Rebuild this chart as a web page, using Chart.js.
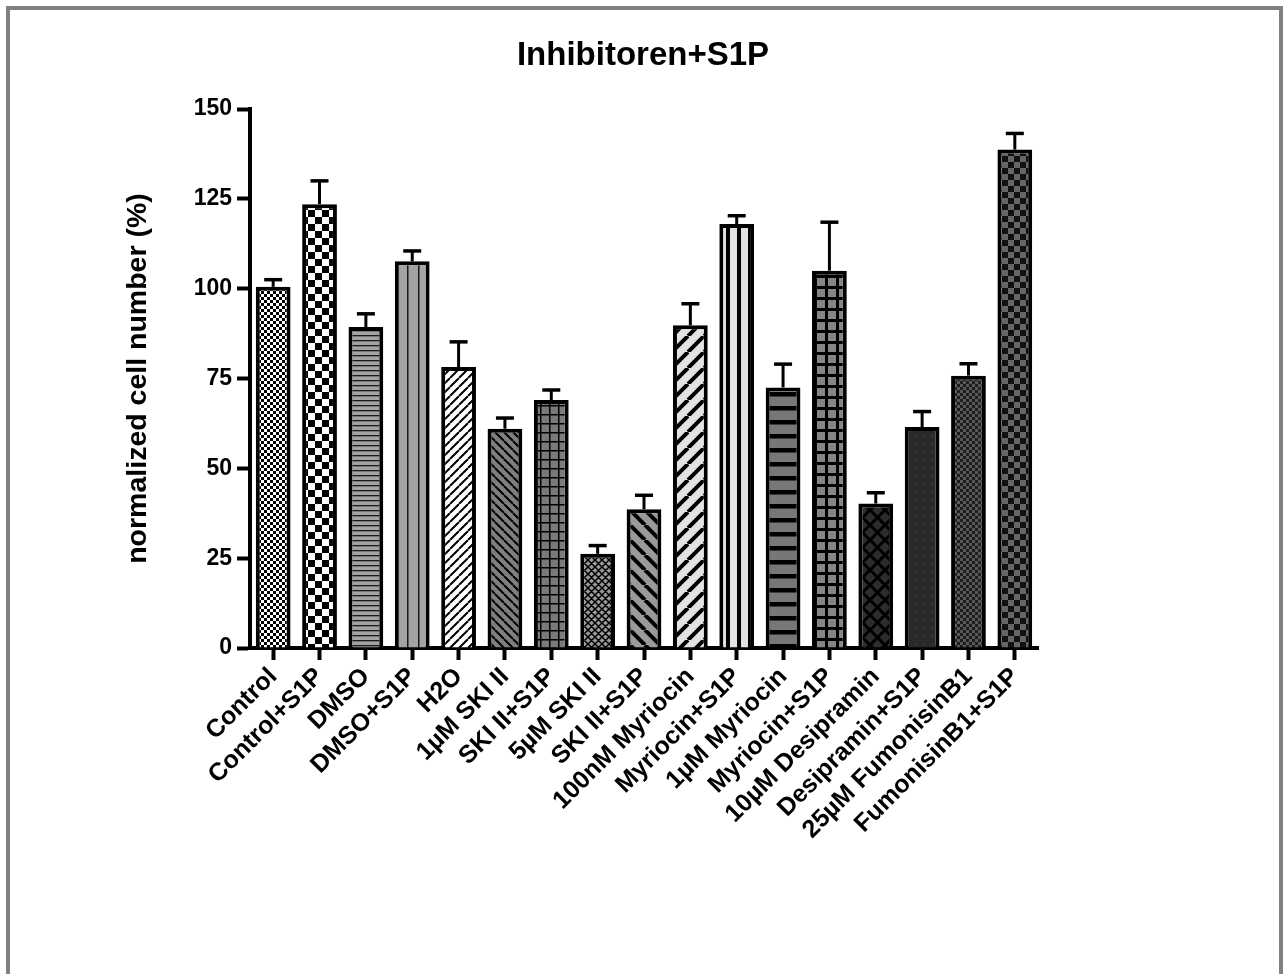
<!DOCTYPE html>
<html>
<head>
<meta charset="utf-8">
<title>Inhibitoren+S1P</title>
<script src="https://cdn.jsdelivr.net/npm/chart.js@4.4.1/dist/chart.umd.min.js"></script>
<style>
    body { margin: 0; background: #fff; overflow: hidden; }
    #wrap { position: absolute; left: 0; top: 0; width: 1286px; height: 974px; }
    #frame { position: absolute; left: 6px; top: 6px; width: 1277px; height: 1000px; box-sizing: border-box; border: 4px solid #808080; pointer-events: none; }
</style>
</head>
<body>
<div id="wrap"><canvas id="chart" width="1286" height="974"></canvas></div>
<div id="frame"></div>
<script>
/*
 * Inhibitoren+S1P - bar chart with upper error bars and grey fill patterns
 */

const groups = ['Control', 'Control+S1P', 'DMSO', 'DMSO+S1P', 'H2O', '1µM SKI II', 'SKI II+S1P', '5µM SKI II', 'SKI II+S1P',
    '100nM Myriocin', 'Myriocin+S1P', '1µM Myriocin', 'Myriocin+S1P', '10µM Desipramin', 'Desipramin+S1P', '25µM FumonisinB1', 'FumonisinB1+S1P'];
const cellNumber = [100.5, 123.5, 89.3, 107.6, 78.2, 61.0, 69.0, 26.2, 38.6, 89.8, 118.0, 72.5, 105.0, 40.2, 61.5, 75.8, 138.7];
const sem = [2.0, 6.5, 3.7, 2.9, 7.0, 3.0, 2.8, 2.3, 3.9, 6.0, 2.3, 6.5, 13.5, 3.0, 4.3, 3.3, 4.5];
const yTicks = [0, 25, 50, 75, 100, 125, 150];

const canvas = document.getElementById('chart');
const ctx = canvas.getContext('2d');
const FONT = "'Liberation Sans', Arial, Helvetica, sans-serif";

function tile(size, bg, draw) {
    const c = document.createElement('canvas');
    c.width = size; c.height = size;
    const g = c.getContext('2d');
    g.fillStyle = bg; g.fillRect(0, 0, size, size);
    g.strokeStyle = '#000'; g.fillStyle = '#000';
    draw(g, size);
    return ctx.createPattern(c, 'repeat');
}
function checker(cell, a, b) {
    return tile(cell * 2, a, (g, s) => { g.fillStyle = b; g.fillRect(0, 0, cell, cell); g.fillRect(cell, cell, cell, cell); });
}
function hLines(s, lw, bg, col) {
    return tile(s, bg, (g) => { g.fillStyle = col || '#000'; g.fillRect(0, 0, s, lw); });
}
function vLines(s, lw, bg, col) {
    return tile(s, bg, (g) => { g.fillStyle = col || '#000'; g.fillRect(0, 0, lw, s); });
}
function grid(s, lw, bg) {
    return tile(s, bg, (g) => { g.fillRect(0, 0, s, lw); g.fillRect(0, 0, lw, s); });
}
function diag(s, lw, bg, dir) {
    return tile(s, bg, (g) => {
        g.lineWidth = lw;
        g.beginPath();
        for (let k = -1; k <= 1; k++) {
            if (dir === '/') { g.moveTo(k * s, s); g.lineTo(k * s + s, 0); }
            else { g.moveTo(k * s, 0); g.lineTo(k * s + s, s); }
        }
        g.stroke();
    });
}
function cross(s, lw, bg) {
    return tile(s, bg, (g) => {
        g.lineWidth = lw;
        g.beginPath();
        for (let k = -1; k <= 1; k++) {
            g.moveTo(k * s, s); g.lineTo(k * s + s, 0);
            g.moveTo(k * s, 0); g.lineTo(k * s + s, s);
        }
        g.stroke();
    });
}
function dots(s, r, bg, col) {
    return tile(s, bg, (g) => { g.fillStyle = col; g.fillRect(s / 2, s / 2, r, r); });
}

const fills = [
    checker(3, '#ffffff', '#000000'),
    checker(7, '#ffffff', '#000000'),
    hLines(5, 1.3, '#a3a3a3', '#1a1a1a'),
    vLines(11, 1.5, '#a3a3a3', '#1a1a1a'),
    diag(9, 2, '#ffffff', '/'),
    diag(9, 2, '#7f7f7f', '\\'),
    grid(9, 1.5, '#7a7a7a'),
    cross(7, 1.5, '#9a9a9a'),
    diag(15, 4, '#9a9a9a', '\\'),
    diag(16, 4, '#e2e2e2', '/'),
    vLines(11, 4, '#e2e2e2'),
    hLines(14, 4.5, '#777777'),
    grid(11, 3, '#858585'),
    cross(15, 3, '#2c2c2c'),
    dots(8, 1, '#2a2a2a', '#555555'),
    checker(3, '#1e1e1e', '#585858'),
    checker(6, '#111111', '#666666')
];

const errorBars = {
    id: 'errorBars',
    afterDatasetsDraw(chart) {
        const meta = chart.getDatasetMeta(0);
        const y = chart.scales.y;
        const c = chart.ctx;
        c.save();
        c.strokeStyle = '#000';
        meta.data.forEach((bar, i) => {
            const top = y.getPixelForValue(cellNumber[i] + sem[i]);
            c.lineWidth = 3;
            c.beginPath();
            c.moveTo(bar.x, bar.y);
            c.lineTo(bar.x, top);
            c.stroke();
            c.lineWidth = 3.5;
            c.beginPath();
            c.moveTo(bar.x - 9, top);
            c.lineTo(bar.x + 9, top);
            c.stroke();
        });
        c.restore();
    }
};

Chart.defaults.font.family = FONT;
Chart.defaults.color = '#000';

new Chart(ctx, {
    type: 'bar',
    data: {
        labels: groups,
        datasets: [{
            data: cellNumber,
            backgroundColor: fills,
            borderColor: '#000',
            borderWidth: 4,
            borderSkipped: 'start',
            barPercentage: 0.75,
            categoryPercentage: 1
        }]
    },
    options: {
        responsive: false,
        devicePixelRatio: 1,
        animation: false,
        layout: { padding: 0 },
        plugins: {
            legend: { display: false },
            tooltip: { enabled: false },
            title: {
                display: true,
                text: 'Inhibitoren+S1P',
                color: '#000',
                font: { size: 33, weight: 'bold' },
                padding: { top: 36, bottom: 33.4 }
            }
        },
        scales: {
            x: {
                offset: true,
                afterFit: (s) => { s.height = 326; },
                border: { color: '#000', width: 4 },
                grid: { offset: false, drawOnChartArea: false, tickLength: 12, tickWidth: 4, tickColor: '#000' },
                ticks: { autoSkip: false, maxRotation: 45, minRotation: 45, padding: 2, color: '#000', font: { size: 25, weight: 'bold' } }
            },
            y: {
                min: 0,
                max: 150,
                afterFit: (s) => { s.width = 250; },
                afterBuildTicks: (s) => { s.ticks = yTicks.map(v => ({ value: v })); },
                border: { color: '#000', width: 4 },
                grid: { drawOnChartArea: false, tickLength: 13, tickWidth: 4, tickColor: '#000' },
                ticks: { padding: 5, color: '#000', font: { size: 23, weight: 'bold' } },
                title: {
                    display: true,
                    text: 'normalized cell number (%)',
                    color: '#000',
                    font: { size: 28.5, weight: 'bold' },
                    padding: { top: 121, bottom: 0 }
                }
            },
            // empty right-hand box keeping the plot narrow while the title centres on the page
            spacer: {
                type: 'linear',
                position: 'right',
                afterFit: (s) => { s.width = 248; },
                border: { display: false },
                grid: { display: false },
                ticks: { display: false }
            }
        }
    },
    plugins: [errorBars]
});
</script>
</body>
</html>
